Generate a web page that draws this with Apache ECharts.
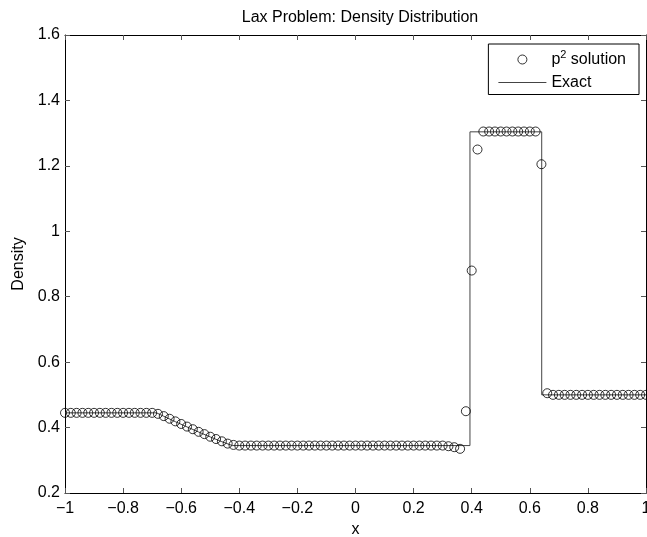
<!DOCTYPE html>
<html>
<head>
<meta charset="utf-8">
<script src="https://cdn.jsdelivr.net/npm/echarts@6/dist/echarts.min.js"></script>
<style>
  html, body { margin: 0; padding: 0; background: #fff; }
  #chart { width: 647px; height: 537px; }
</style>
</head>
<body>
<div id="chart"></div>
<script>
// numerical solution (circles)
const solX = [
  -1.00, -0.98, -0.96, -0.94, -0.92, -0.90, -0.88, -0.86, -0.84, -0.82,
  -0.80, -0.78, -0.76, -0.74, -0.72, -0.70, -0.68, -0.66, -0.64, -0.62,
  -0.60, -0.58, -0.56, -0.54, -0.52, -0.50, -0.48, -0.46, -0.44, -0.42,
  -0.40, -0.38, -0.36, -0.34, -0.32, -0.30, -0.28, -0.26, -0.24, -0.22,
  -0.20, -0.18, -0.16, -0.14, -0.12, -0.10, -0.08, -0.06, -0.04, -0.02,
   0.00,  0.02,  0.04,  0.06,  0.08,  0.10,  0.12,  0.14,  0.16,  0.18,
   0.20,  0.22,  0.24,  0.26,  0.28,  0.30,  0.32,  0.34,  0.36,  0.38,
   0.40,  0.42,  0.44,  0.46,  0.48,  0.50,  0.52,  0.54,  0.56,  0.58,
   0.60,  0.62,  0.64,  0.66,  0.68,  0.70,  0.72,  0.74,  0.76,  0.78,
   0.80,  0.82,  0.84,  0.86,  0.88,  0.90,  0.92,  0.94,  0.96,  0.98,
   1.00
];
const solRho = [
  0.445, 0.445, 0.445, 0.445, 0.445, 0.445, 0.445, 0.445, 0.445, 0.445,
  0.445, 0.445, 0.445, 0.445, 0.445, 0.445, 0.442, 0.435, 0.427, 0.419,
  0.411, 0.403, 0.395, 0.387, 0.380, 0.372, 0.365, 0.358, 0.351, 0.347,
  0.345, 0.345, 0.345, 0.345, 0.345, 0.345, 0.345, 0.345, 0.345, 0.345,
  0.345, 0.345, 0.345, 0.345, 0.345, 0.345, 0.345, 0.345, 0.345, 0.345,
  0.345, 0.345, 0.345, 0.345, 0.345, 0.345, 0.345, 0.345, 0.345, 0.345,
  0.345, 0.345, 0.345, 0.345, 0.345, 0.345, 0.343, 0.340, 0.335, 0.450,
  0.880, 1.250, 1.305, 1.305, 1.305, 1.305, 1.305, 1.305, 1.305, 1.305,
  1.305, 1.305, 1.205, 0.505, 0.500, 0.500, 0.500, 0.500, 0.500, 0.500,
  0.500, 0.500, 0.500, 0.500, 0.500, 0.500, 0.500, 0.500, 0.500, 0.500,
  0.500
];

// exact solution (line)
const exactX   = [-1, -0.685, -0.66, -0.62, -0.58, -0.54, -0.50, -0.46, -0.424, 0.394, 0.394, 0.641, 0.641, 1];
const exactRho = [0.445, 0.445, 0.4345, 0.418, 0.402, 0.3865, 0.3714, 0.3568, 0.345, 0.345, 1.304, 1.304, 0.5, 0.5];

const FONT = "'Liberation Sans', Arial, Helvetica, sans-serif";
const FS = 16;

function fmt(v) {
  let s = String(Math.round(v * 10) / 10);
  return s.replace("-", "\u2212");
}

const chart = echarts.init(document.getElementById("chart"));

const baseAxis = {
  axisLine: { show: true, onZero: false, lineStyle: { color: "#000", width: 1 } },
  axisTick: { show: true, inside: true, length: 5, lineStyle: { color: "#555" } },
  splitLine: { show: false },
};

const option = {
  backgroundColor: "#fff",
  animation: false,
  textStyle: { fontFamily: FONT },
  title: {
    text: "Lax Problem: Density Distribution",
    left: 355,
    textAlign: "center",
    top: 5,
    textStyle: { fontFamily: FONT, fontSize: FS, fontWeight: "normal", color: "#000" },
  },
  grid: { left: 65, top: 35, right: 1, bottom: 44, containLabel: false, outerBoundsMode: "none" },
  legend: {
    orient: "vertical",
    right: 8,
    top: 44,
    padding: [5, 13, 4, 10],
    itemGap: 7,
    itemWidth: 48,
    itemHeight: 9,
    borderColor: "#000",
    borderWidth: 1,
    borderRadius: 0,
    backgroundColor: "#fff",
    data: [
      {
        name: "p2 solution",
        icon: "circle",
        itemStyle: { color: "rgba(0,0,0,0)", borderColor: "#000", borderWidth: 1 },
      },
      {
        name: "Exact",
        icon: "path://M0,0 L48,0 L48,1 L0,1 Z",
        itemStyle: { color: "#444", borderWidth: 0 },
      },
    ],
    formatter: function (name) {
      return name === "p2 solution" ? "{a|p}{s|2}{a| solution}" : "{a|Exact}";
    },
    textStyle: {
      fontFamily: FONT,
      rich: {
        a: { fontFamily: FONT, fontSize: FS, color: "#000", lineHeight: 21 },
        s: { fontFamily: FONT, fontSize: 11, color: "#000", verticalAlign: "top", lineHeight: 12 },
      },
    },
  },
  xAxis: [
    Object.assign({}, baseAxis, {
      type: "value",
      min: -1,
      max: 1,
      interval: 0.2,
      position: "bottom",
      name: "x",
      nameLocation: "middle",
      nameGap: 27,
      nameTextStyle: { fontFamily: FONT, fontSize: FS, color: "#000" },
      axisLabel: {
        margin: 8,
        fontFamily: FONT,
        fontSize: FS,
        color: "#000",
        formatter: fmt,
        showMinLabel: true,
        showMaxLabel: true,
      },
    }),
    Object.assign({}, baseAxis, {
      type: "value",
      min: -1,
      max: 1,
      interval: 0.2,
      position: "top",
      axisLabel: { show: false },
    }),
  ],
  yAxis: [
    Object.assign({}, baseAxis, {
      type: "value",
      min: 0.2,
      max: 1.6,
      interval: 0.2,
      position: "left",
      name: "Density",
      nameLocation: "middle",
      nameGap: 38,
      nameTextStyle: { fontFamily: FONT, fontSize: FS, color: "#000" },
      axisLabel: {
        margin: 5,
        fontFamily: FONT,
        fontSize: FS,
        color: "#000",
        formatter: fmt,
        showMinLabel: true,
        showMaxLabel: true,
      },
    }),
    Object.assign({}, baseAxis, {
      type: "value",
      min: 0.2,
      max: 1.6,
      interval: 0.2,
      position: "right",
      axisLabel: { show: false },
    }),
  ],
  series: [
    {
      name: "Exact",
      type: "line",
      xAxisIndex: 0,
      yAxisIndex: 0,
      showSymbol: false,
      symbol: "none",
      lineStyle: { color: "#444", width: 1 },
      itemStyle: { color: "#444" },
      data: exactX.map((x, i) => [x, exactRho[i]]),
      z: 2,
    },
    {
      name: "p2 solution",
      type: "scatter",
      xAxisIndex: 0,
      yAxisIndex: 0,
      symbol: "circle",
      symbolSize: 9,
      itemStyle: { color: "rgba(0,0,0,0)", borderColor: "#000", borderWidth: 1 },
      data: solX.map((x, i) => [x, solRho[i]]),
      z: 3,
    },
  ],
};

chart.setOption(option);
</script>
</body>
</html>
